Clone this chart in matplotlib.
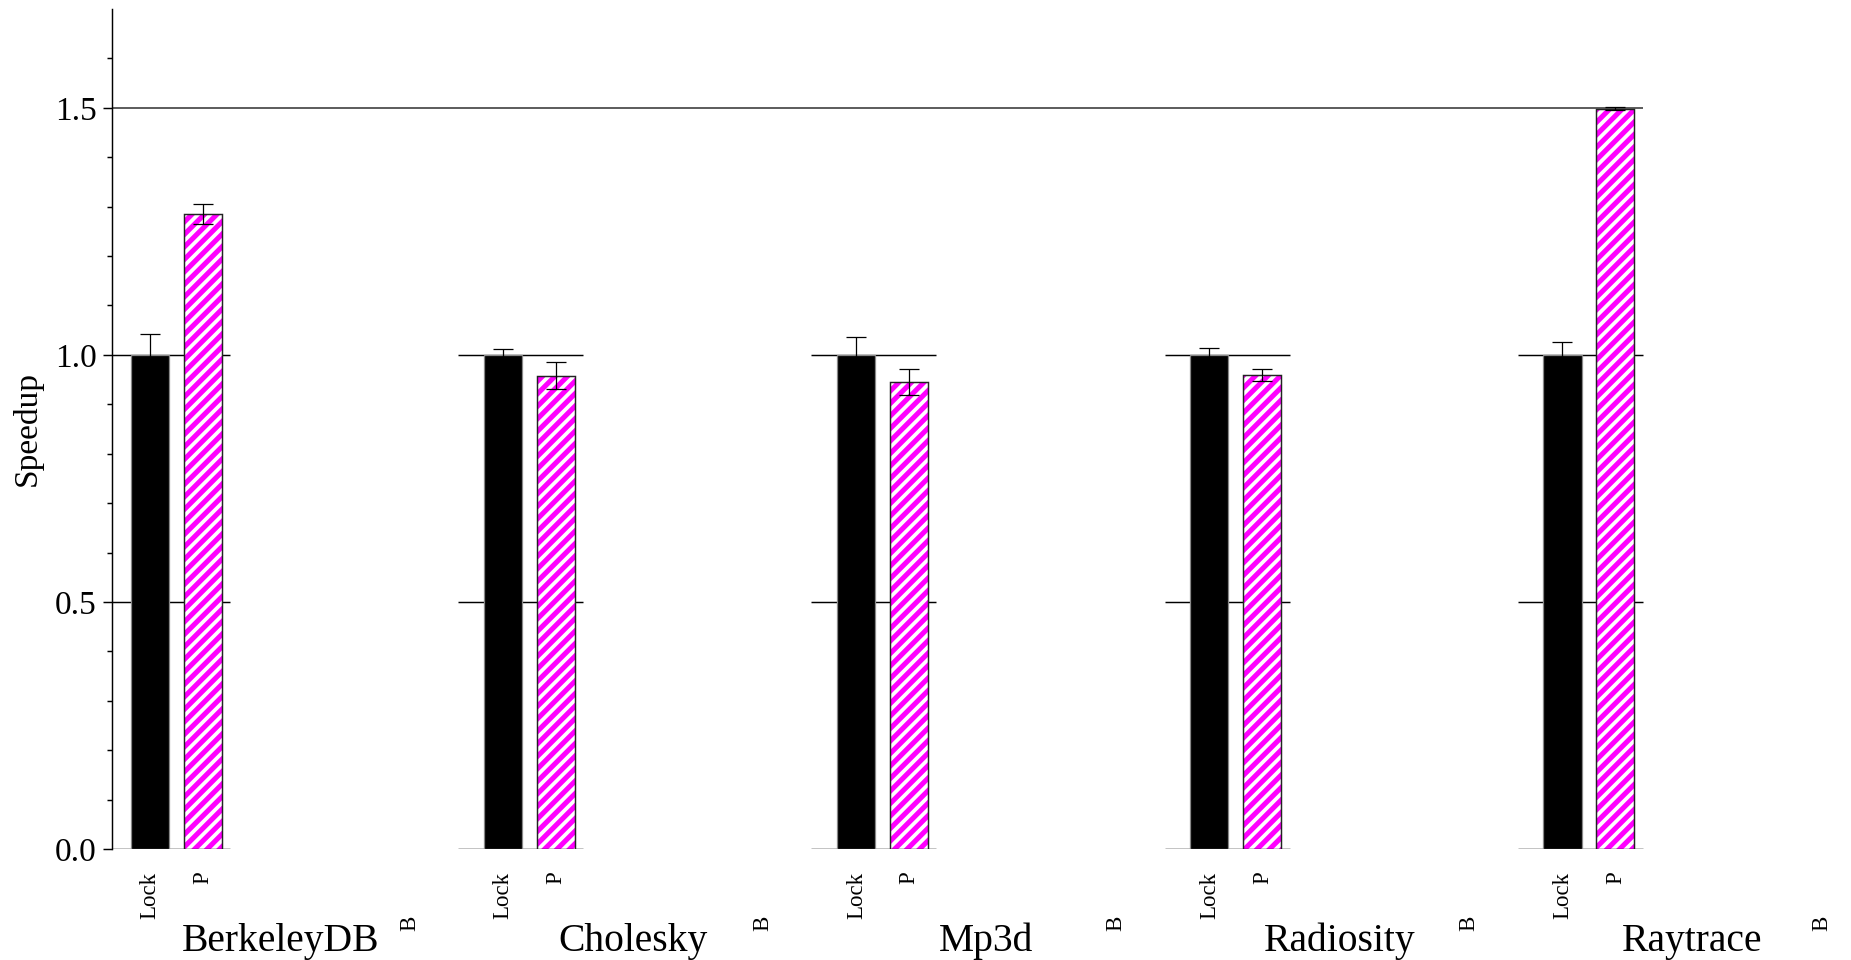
import matplotlib
matplotlib.use("Agg")
import matplotlib.pyplot as plt
import matplotlib.transforms as mtransforms
import numpy as np

benchmarks = ["BerkeleyDB", "Cholesky", "Mp3d", "Radiosity", "Raytrace"]
lock_vals = [1.0, 1.0, 1.0, 1.0, 1.0]
lock_err = [0.042, 0.011, 0.036, 0.014, 0.026]
p_vals = [1.285, 0.958, 0.945, 0.959, 1.498]
p_err = [0.020, 0.027, 0.026, 0.012, 0.003]
bar_labels = ["Lock", "P", "B"]
yticks_major = [0.0, 0.5, 1.0, 1.5]

plt.rcParams['font.family'] = ['Liberation Serif', 'DejaVu Serif']
plt.rcParams['hatch.linewidth'] = 1.8

fig = plt.figure(figsize=(1852 / 150, 960 / 150), dpi=150)
ax = fig.add_axes([112 / 1852, 1 - 849 / 960, 1 - 112 / 1852, 840 / 960])

width = 0.108
offset = 0.150
x = np.arange(len(benchmarks))

# per-group reference lines
for xi in x:
    for yv in [0.0, 0.5, 1.0]:
        ax.plot([xi - 0.127, xi + 0.227], [yv, yv], color='black', lw=0.7,
                zorder=1, solid_capstyle='butt')
ax.plot([-0.2, x[-1] + 0.227], [1.5, 1.5], color='#555555', lw=0.9, zorder=1,
        solid_capstyle='butt')

ax.bar(x, lock_vals, width, color='black', edgecolor='#888888', lw=0.6, zorder=2)
ax.errorbar(x, lock_vals, yerr=lock_err, fmt='none', ecolor='black',
            elinewidth=0.6, capsize=4.6, capthick=0.6, zorder=4)

ax.bar(x + offset, p_vals, width, color='#ff00ff', edgecolor='white',
       hatch='////', lw=0, zorder=2)
ax.bar(x + offset, p_vals, width, fill=False, edgecolor='#222222', lw=0.7, zorder=3)
ax.errorbar(x + offset, p_vals, yerr=p_err, fmt='none', ecolor='black',
            elinewidth=0.6, capsize=4.6, capthick=0.6, zorder=4)

ax.set_xlim(-0.108, 4.82)
ax.set_ylim(0, 1.70)

for s in ['top', 'right', 'bottom']:
    ax.spines[s].set_visible(False)
ax.spines['left'].set_linewidth(0.7)

ax.set_yticks(yticks_major)
ax.set_yticklabels(["%.1f" % v for v in yticks_major], fontsize=16)
ax.set_yticks(np.arange(0, 1.7, 0.1), minor=True)
ax.tick_params(axis='y', which='major', length=4.4, width=0.7, pad=3)
ax.tick_params(axis='y', which='minor', length=2.4, width=0.7)
ax.set_xticks([])

ax.set_ylabel("Speedup", fontsize=16, labelpad=6)

trans = mtransforms.blended_transform_factory(ax.transData, ax.transAxes)
for xi, name in zip(x, benchmarks):
    ax.text(xi, -0.027, bar_labels[0], transform=trans, rotation=90,
            ha='center', va='top', fontsize=11)
    ax.text(xi + offset, -0.027, bar_labels[1], transform=trans, rotation=90,
            ha='center', va='top', fontsize=11)
    ax.text(xi + 0.735, -0.079, bar_labels[2], transform=trans, rotation=90,
            ha='center', va='top', fontsize=11)
    ax.text(xi + 0.368, -0.121, name, transform=trans, ha='center',
            va='baseline', fontsize=19)

fig.savefig("out.png", dpi=150)
